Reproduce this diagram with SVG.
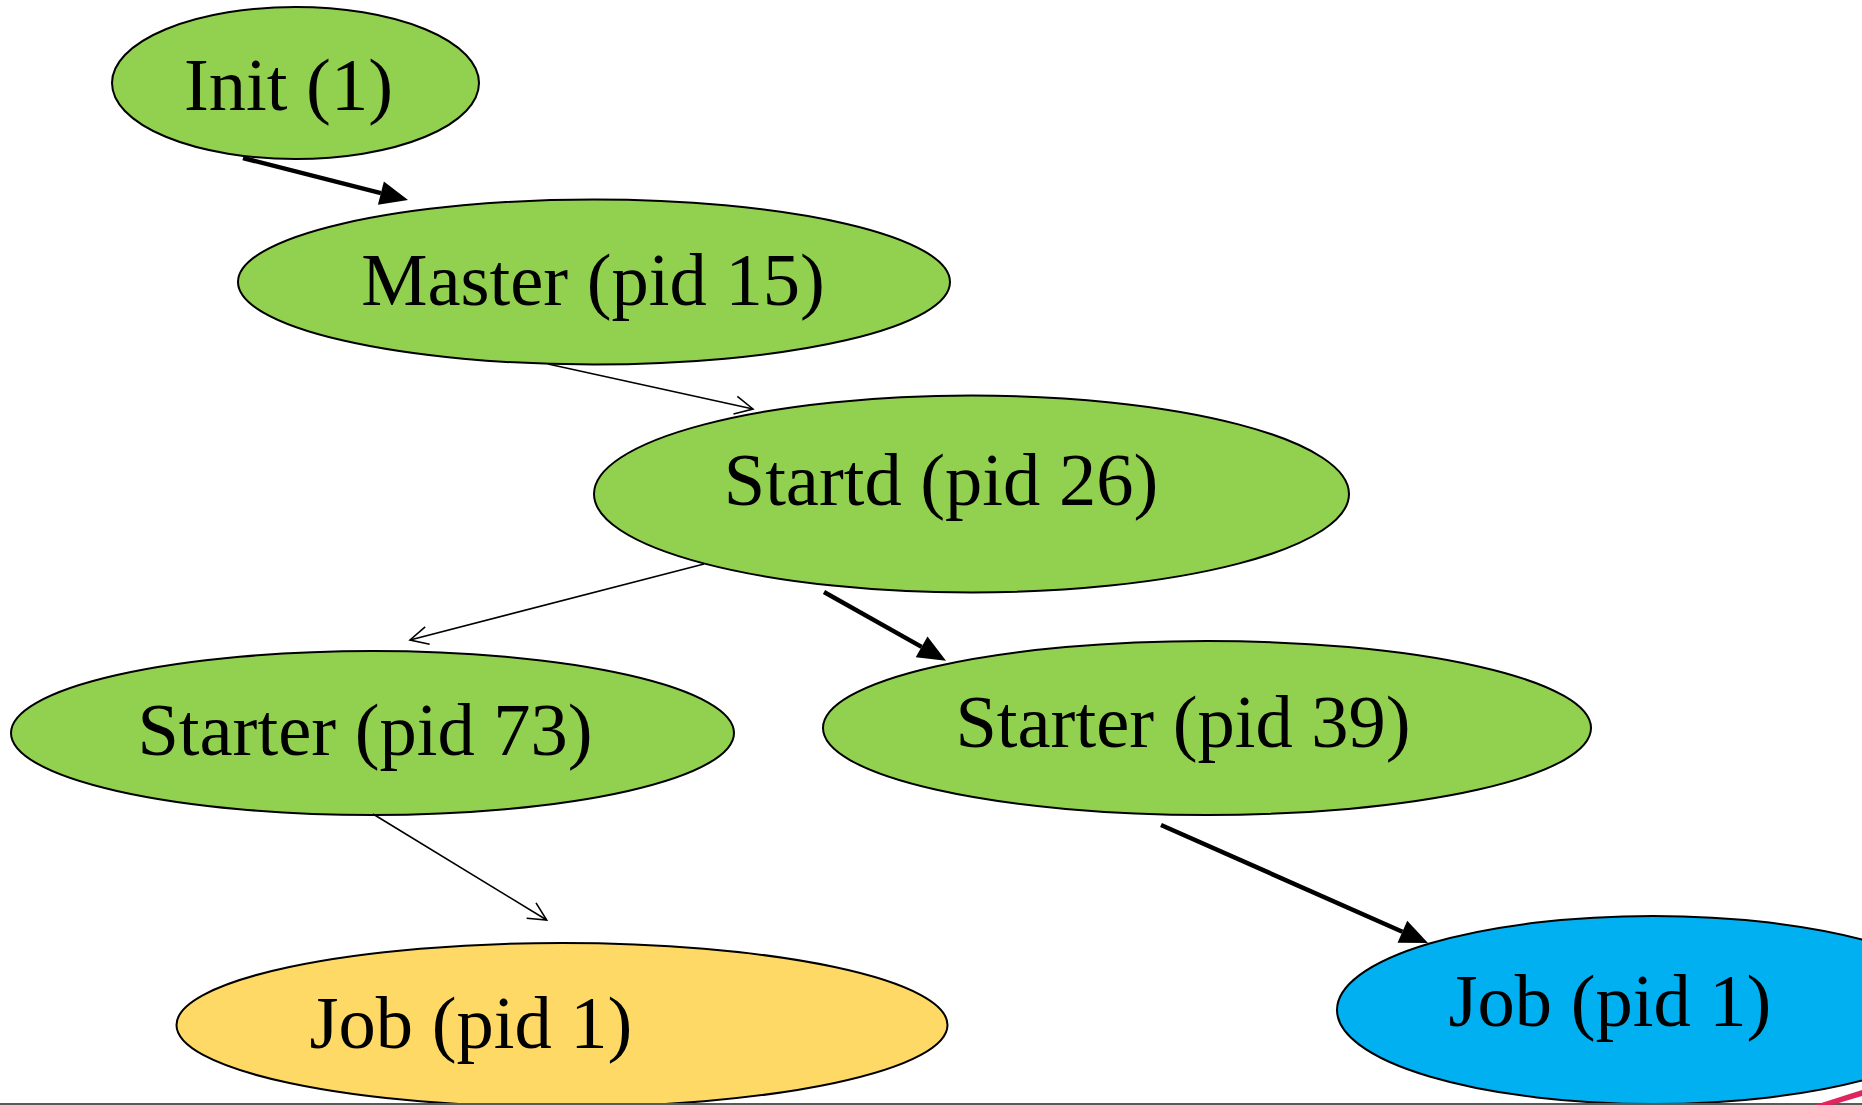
<svg xmlns="http://www.w3.org/2000/svg" width="1862" height="1105" viewBox="0 0 1862 1105">
<style>
.node ellipse{stroke:#000;stroke-width:2}
.green{fill:#92D050}
.yellow{fill:#FFD966}
.blue{fill:#00B0F0}
.node text{font-family:"Liberation Serif","Times New Roman",serif;font-size:74.5px;fill:#000;text-anchor:middle}
.thick{stroke:#000;stroke-width:4.5;fill:none}
.thin{stroke:#000;stroke-width:1.6;fill:none}
</style>
<defs>
<marker id="fillHead" markerUnits="userSpaceOnUse" markerWidth="30" markerHeight="26" refX="0" refY="12" orient="auto" overflow="visible">
<path d="M0,0 L28,12 L0,24 z" fill="#000"/>
</marker>
<marker id="openHead" markerUnits="userSpaceOnUse" markerWidth="22" markerHeight="22" refX="18" refY="9" orient="auto" overflow="visible">
<path d="M0,0 L18,9 L0,18" fill="none" stroke="#000" stroke-width="1.6"/>
</marker>
</defs>
<rect width="1862" height="1105" fill="#fff"/>
<g id="n-init" class="node">
<ellipse class="green" cx="295.5" cy="83" rx="183.5" ry="76"/>
<text x="288.5" y="110">Init (1)</text>
</g>
<g id="n-master" class="node">
<ellipse class="green" cx="594" cy="282" rx="356" ry="82.5"/>
<text x="593" y="305">Master (pid 15)</text>
</g>
<g id="n-startd" class="node">
<ellipse class="green" cx="971.5" cy="494" rx="377.5" ry="98.5"/>
<text x="941" y="505">Startd (pid 26)</text>
</g>
<g id="n-starter73" class="node">
<ellipse class="green" cx="372.5" cy="733" rx="361.5" ry="82"/>
<text x="365" y="755">Starter (pid 73)</text>
</g>
<g id="n-starter39" class="node">
<ellipse class="green" cx="1207" cy="728" rx="384" ry="87"/>
<text x="1183" y="747">Starter (pid 39)</text>
</g>
<g id="n-job-yellow" class="node">
<ellipse class="yellow" cx="562" cy="1025" rx="385.5" ry="82"/>
<text x="471" y="1048">Job (pid 1)</text>
</g>
<g id="n-job-blue" class="node">
<ellipse class="blue" cx="1653" cy="1010" rx="316" ry="94"/>
<text x="1610" y="1026">Job (pid 1)</text>
</g>
<g id="connectors">
<line class="thick" x1="243" y1="158" x2="380.9" y2="193.1" marker-end="url(#fillHead)"/>
<line class="thin" x1="548" y1="364" x2="753" y2="409" marker-end="url(#openHead)"/>
<line class="thin" x1="704" y1="564" x2="410" y2="640" marker-end="url(#openHead)"/>
<line class="thick" x1="824" y1="592" x2="921.6" y2="646.9" marker-end="url(#fillHead)"/>
<line class="thin" x1="373" y1="814" x2="546.7" y2="920" marker-end="url(#openHead)"/>
<line class="thick" x1="1161" y1="825" x2="1402.4" y2="931.7" marker-end="url(#fillHead)"/>
</g>
<rect x="0" y="1103" width="1862" height="2" fill="#5a5a5a"/>
<polygon points="1815,1105 1862,1090 1862,1096 1832,1105" fill="#E0245E"/>
</svg>
